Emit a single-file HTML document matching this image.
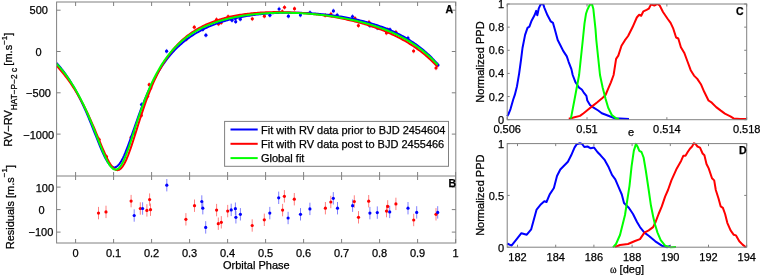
<!DOCTYPE html><html><head><meta charset="utf-8"><style>html,body{margin:0;padding:0;background:#fff;width:760px;height:275px;overflow:hidden}svg{display:block;will-change:transform}text{font-family:"Liberation Sans",sans-serif;fill:#000;stroke:#000;stroke-width:0.25px}</style></head><body>
<svg width="760" height="275" viewBox="0 0 760 275">
<rect width="760" height="275" fill="#fff"/>
<line x1="99.20" y1="137.20" x2="99.20" y2="141.80" stroke="#ff6060" stroke-width="0.8"/>
<line x1="106.50" y1="154.40" x2="106.50" y2="159.00" stroke="#ff6060" stroke-width="0.8"/>
<line x1="131.10" y1="135.10" x2="131.10" y2="139.70" stroke="#ff6060" stroke-width="0.8"/>
<line x1="134.20" y1="130.70" x2="134.20" y2="135.30" stroke="#6060ff" stroke-width="0.8"/>
<line x1="141.30" y1="113.10" x2="141.30" y2="117.70" stroke="#ff6060" stroke-width="0.8"/>
<line x1="141.50" y1="102.20" x2="141.50" y2="106.80" stroke="#6060ff" stroke-width="0.8"/>
<line x1="147.60" y1="93.90" x2="147.60" y2="98.50" stroke="#ff6060" stroke-width="0.8"/>
<line x1="149.20" y1="82.40" x2="149.20" y2="87.00" stroke="#ff6060" stroke-width="0.8"/>
<line x1="150.80" y1="85.60" x2="150.80" y2="90.20" stroke="#ff6060" stroke-width="0.8"/>
<line x1="166.60" y1="48.90" x2="166.60" y2="53.50" stroke="#6060ff" stroke-width="0.8"/>
<line x1="186.30" y1="37.00" x2="186.30" y2="41.60" stroke="#ff6060" stroke-width="0.8"/>
<line x1="194.30" y1="24.90" x2="194.30" y2="29.50" stroke="#ff6060" stroke-width="0.8"/>
<line x1="201.80" y1="26.50" x2="201.80" y2="31.10" stroke="#6060ff" stroke-width="0.8"/>
<line x1="202.80" y1="27.20" x2="202.80" y2="31.80" stroke="#6060ff" stroke-width="0.8"/>
<line x1="205.90" y1="32.90" x2="205.90" y2="37.50" stroke="#6060ff" stroke-width="0.8"/>
<line x1="216.50" y1="17.20" x2="216.50" y2="21.80" stroke="#ff6060" stroke-width="0.8"/>
<line x1="218.50" y1="21.60" x2="218.50" y2="26.20" stroke="#ff6060" stroke-width="0.8"/>
<line x1="221.20" y1="20.40" x2="221.20" y2="25.00" stroke="#ff6060" stroke-width="0.8"/>
<line x1="228.10" y1="14.30" x2="228.10" y2="18.90" stroke="#ff6060" stroke-width="0.8"/>
<line x1="232.00" y1="18.00" x2="232.00" y2="22.60" stroke="#6060ff" stroke-width="0.8"/>
<line x1="235.40" y1="16.20" x2="235.40" y2="20.80" stroke="#6060ff" stroke-width="0.8"/>
<line x1="235.70" y1="19.40" x2="235.70" y2="24.00" stroke="#6060ff" stroke-width="0.8"/>
<line x1="240.30" y1="16.90" x2="240.30" y2="21.50" stroke="#6060ff" stroke-width="0.8"/>
<line x1="252.30" y1="16.50" x2="252.30" y2="21.10" stroke="#ff6060" stroke-width="0.8"/>
<line x1="264.40" y1="13.90" x2="264.40" y2="18.50" stroke="#ff6060" stroke-width="0.8"/>
<line x1="269.90" y1="13.00" x2="269.90" y2="17.60" stroke="#6060ff" stroke-width="0.8"/>
<line x1="279.10" y1="6.70" x2="279.10" y2="11.30" stroke="#6060ff" stroke-width="0.8"/>
<line x1="282.30" y1="9.20" x2="282.30" y2="13.80" stroke="#ff6060" stroke-width="0.8"/>
<line x1="284.50" y1="5.00" x2="284.50" y2="9.60" stroke="#ff6060" stroke-width="0.8"/>
<line x1="288.40" y1="13.90" x2="288.40" y2="18.50" stroke="#6060ff" stroke-width="0.8"/>
<line x1="294.50" y1="6.40" x2="294.50" y2="11.00" stroke="#ff6060" stroke-width="0.8"/>
<line x1="300.40" y1="12.80" x2="300.40" y2="17.40" stroke="#6060ff" stroke-width="0.8"/>
<line x1="310.00" y1="10.30" x2="310.00" y2="14.90" stroke="#6060ff" stroke-width="0.8"/>
<line x1="325.20" y1="13.00" x2="325.20" y2="17.60" stroke="#ff6060" stroke-width="0.8"/>
<line x1="330.90" y1="11.70" x2="330.90" y2="16.30" stroke="#ff6060" stroke-width="0.8"/>
<line x1="333.40" y1="8.60" x2="333.40" y2="13.20" stroke="#6060ff" stroke-width="0.8"/>
<line x1="337.20" y1="12.80" x2="337.20" y2="17.40" stroke="#6060ff" stroke-width="0.8"/>
<line x1="352.50" y1="14.20" x2="352.50" y2="18.80" stroke="#6060ff" stroke-width="0.8"/>
<line x1="355.00" y1="16.10" x2="355.00" y2="20.70" stroke="#ff6060" stroke-width="0.8"/>
<line x1="358.40" y1="23.30" x2="358.40" y2="27.90" stroke="#ff6060" stroke-width="0.8"/>
<line x1="369.00" y1="19.90" x2="369.00" y2="24.50" stroke="#ff6060" stroke-width="0.8"/>
<line x1="369.90" y1="23.40" x2="369.90" y2="28.00" stroke="#6060ff" stroke-width="0.8"/>
<line x1="377.30" y1="25.60" x2="377.30" y2="30.20" stroke="#6060ff" stroke-width="0.8"/>
<line x1="386.40" y1="30.70" x2="386.40" y2="35.30" stroke="#ff6060" stroke-width="0.8"/>
<line x1="387.70" y1="27.20" x2="387.70" y2="31.80" stroke="#ff6060" stroke-width="0.8"/>
<line x1="390.00" y1="27.30" x2="390.00" y2="31.90" stroke="#6060ff" stroke-width="0.8"/>
<line x1="395.90" y1="29.90" x2="395.90" y2="34.50" stroke="#ff6060" stroke-width="0.8"/>
<line x1="408.00" y1="35.70" x2="408.00" y2="40.30" stroke="#6060ff" stroke-width="0.8"/>
<line x1="413.60" y1="48.70" x2="413.60" y2="53.30" stroke="#ff6060" stroke-width="0.8"/>
<line x1="416.70" y1="45.00" x2="416.70" y2="49.60" stroke="#6060ff" stroke-width="0.8"/>
<line x1="436.00" y1="65.70" x2="436.00" y2="70.30" stroke="#ff6060" stroke-width="0.8"/>
<line x1="438.00" y1="62.70" x2="438.00" y2="67.30" stroke="#6060ff" stroke-width="0.8"/>
<circle cx="99.20" cy="139.50" r="1.6" fill="#ff0000"/>
<circle cx="106.50" cy="156.70" r="1.6" fill="#ff0000"/>
<circle cx="131.10" cy="137.40" r="1.6" fill="#ff0000"/>
<circle cx="134.20" cy="133.00" r="1.6" fill="#0000ff"/>
<circle cx="141.30" cy="115.40" r="1.6" fill="#ff0000"/>
<circle cx="141.50" cy="104.50" r="1.6" fill="#0000ff"/>
<circle cx="147.60" cy="96.20" r="1.6" fill="#ff0000"/>
<circle cx="149.20" cy="84.70" r="1.6" fill="#ff0000"/>
<circle cx="150.80" cy="87.90" r="1.6" fill="#ff0000"/>
<circle cx="166.60" cy="51.20" r="1.6" fill="#0000ff"/>
<circle cx="186.30" cy="39.30" r="1.6" fill="#ff0000"/>
<circle cx="194.30" cy="27.20" r="1.6" fill="#ff0000"/>
<circle cx="201.80" cy="28.80" r="1.6" fill="#0000ff"/>
<circle cx="202.80" cy="29.50" r="1.6" fill="#0000ff"/>
<circle cx="205.90" cy="35.20" r="1.6" fill="#0000ff"/>
<circle cx="216.50" cy="19.50" r="1.6" fill="#ff0000"/>
<circle cx="218.50" cy="23.90" r="1.6" fill="#ff0000"/>
<circle cx="221.20" cy="22.70" r="1.6" fill="#ff0000"/>
<circle cx="228.10" cy="16.60" r="1.6" fill="#ff0000"/>
<circle cx="232.00" cy="20.30" r="1.6" fill="#0000ff"/>
<circle cx="235.40" cy="18.50" r="1.6" fill="#0000ff"/>
<circle cx="235.70" cy="21.70" r="1.6" fill="#0000ff"/>
<circle cx="240.30" cy="19.20" r="1.6" fill="#0000ff"/>
<circle cx="252.30" cy="18.80" r="1.6" fill="#ff0000"/>
<circle cx="264.40" cy="16.20" r="1.6" fill="#ff0000"/>
<circle cx="269.90" cy="15.30" r="1.6" fill="#0000ff"/>
<circle cx="279.10" cy="9.00" r="1.6" fill="#0000ff"/>
<circle cx="282.30" cy="11.50" r="1.6" fill="#ff0000"/>
<circle cx="284.50" cy="7.30" r="1.6" fill="#ff0000"/>
<circle cx="288.40" cy="16.20" r="1.6" fill="#0000ff"/>
<circle cx="294.50" cy="8.70" r="1.6" fill="#ff0000"/>
<circle cx="300.40" cy="15.10" r="1.6" fill="#0000ff"/>
<circle cx="310.00" cy="12.60" r="1.6" fill="#0000ff"/>
<circle cx="325.20" cy="15.30" r="1.6" fill="#ff0000"/>
<circle cx="330.90" cy="14.00" r="1.6" fill="#ff0000"/>
<circle cx="333.40" cy="10.90" r="1.6" fill="#0000ff"/>
<circle cx="337.20" cy="15.10" r="1.6" fill="#0000ff"/>
<circle cx="352.50" cy="16.50" r="1.6" fill="#0000ff"/>
<circle cx="355.00" cy="18.40" r="1.6" fill="#ff0000"/>
<circle cx="358.40" cy="25.60" r="1.6" fill="#ff0000"/>
<circle cx="369.00" cy="22.20" r="1.6" fill="#ff0000"/>
<circle cx="369.90" cy="25.70" r="1.6" fill="#0000ff"/>
<circle cx="377.30" cy="27.90" r="1.6" fill="#0000ff"/>
<circle cx="386.40" cy="33.00" r="1.6" fill="#ff0000"/>
<circle cx="387.70" cy="29.50" r="1.6" fill="#ff0000"/>
<circle cx="390.00" cy="29.60" r="1.6" fill="#0000ff"/>
<circle cx="395.90" cy="32.20" r="1.6" fill="#ff0000"/>
<circle cx="408.00" cy="38.00" r="1.6" fill="#0000ff"/>
<circle cx="413.60" cy="51.00" r="1.6" fill="#ff0000"/>
<circle cx="416.70" cy="47.30" r="1.6" fill="#0000ff"/>
<circle cx="436.00" cy="68.00" r="1.6" fill="#ff0000"/>
<circle cx="438.00" cy="65.00" r="1.6" fill="#0000ff"/>
<line x1="98.50" y1="206.90" x2="98.50" y2="219.30" stroke="#ff6060" stroke-width="0.8"/>
<line x1="106.00" y1="205.70" x2="106.00" y2="218.10" stroke="#ff6060" stroke-width="0.8"/>
<line x1="131.10" y1="194.90" x2="131.10" y2="207.30" stroke="#ff6060" stroke-width="0.8"/>
<line x1="134.20" y1="209.30" x2="134.20" y2="221.70" stroke="#6060ff" stroke-width="0.8"/>
<line x1="140.30" y1="202.30" x2="140.30" y2="214.70" stroke="#ff6060" stroke-width="0.8"/>
<line x1="142.60" y1="202.30" x2="142.60" y2="214.70" stroke="#6060ff" stroke-width="0.8"/>
<line x1="146.90" y1="204.20" x2="146.90" y2="216.60" stroke="#ff6060" stroke-width="0.8"/>
<line x1="149.60" y1="193.40" x2="149.60" y2="205.80" stroke="#ff6060" stroke-width="0.8"/>
<line x1="150.50" y1="203.50" x2="150.50" y2="215.90" stroke="#ff6060" stroke-width="0.8"/>
<line x1="166.80" y1="179.00" x2="166.80" y2="191.40" stroke="#6060ff" stroke-width="0.8"/>
<line x1="185.90" y1="213.10" x2="185.90" y2="225.50" stroke="#ff6060" stroke-width="0.8"/>
<line x1="194.50" y1="199.50" x2="194.50" y2="211.90" stroke="#ff6060" stroke-width="0.8"/>
<line x1="201.80" y1="195.30" x2="201.80" y2="207.70" stroke="#6060ff" stroke-width="0.8"/>
<line x1="202.80" y1="202.00" x2="202.80" y2="214.40" stroke="#6060ff" stroke-width="0.8"/>
<line x1="205.70" y1="221.20" x2="205.70" y2="233.60" stroke="#6060ff" stroke-width="0.8"/>
<line x1="216.60" y1="203.90" x2="216.60" y2="216.30" stroke="#ff6060" stroke-width="0.8"/>
<line x1="218.30" y1="217.50" x2="218.30" y2="229.90" stroke="#ff6060" stroke-width="0.8"/>
<line x1="221.30" y1="216.10" x2="221.30" y2="228.50" stroke="#ff6060" stroke-width="0.8"/>
<line x1="227.70" y1="204.90" x2="227.70" y2="217.30" stroke="#ff6060" stroke-width="0.8"/>
<line x1="231.20" y1="203.70" x2="231.20" y2="216.10" stroke="#6060ff" stroke-width="0.8"/>
<line x1="235.40" y1="202.50" x2="235.40" y2="214.90" stroke="#6060ff" stroke-width="0.8"/>
<line x1="235.90" y1="211.10" x2="235.90" y2="223.50" stroke="#6060ff" stroke-width="0.8"/>
<line x1="240.40" y1="208.10" x2="240.40" y2="220.50" stroke="#6060ff" stroke-width="0.8"/>
<line x1="252.20" y1="219.30" x2="252.20" y2="231.70" stroke="#ff6060" stroke-width="0.8"/>
<line x1="264.30" y1="213.60" x2="264.30" y2="226.00" stroke="#ff6060" stroke-width="0.8"/>
<line x1="269.80" y1="206.90" x2="269.80" y2="219.30" stroke="#6060ff" stroke-width="0.8"/>
<line x1="278.70" y1="191.60" x2="278.70" y2="204.00" stroke="#6060ff" stroke-width="0.8"/>
<line x1="284.40" y1="190.10" x2="284.40" y2="202.50" stroke="#ff6060" stroke-width="0.8"/>
<line x1="282.60" y1="203.90" x2="282.60" y2="216.30" stroke="#ff6060" stroke-width="0.8"/>
<line x1="288.10" y1="211.80" x2="288.10" y2="224.20" stroke="#6060ff" stroke-width="0.8"/>
<line x1="294.30" y1="193.00" x2="294.30" y2="205.40" stroke="#ff6060" stroke-width="0.8"/>
<line x1="300.50" y1="208.10" x2="300.50" y2="220.50" stroke="#6060ff" stroke-width="0.8"/>
<line x1="309.90" y1="202.70" x2="309.90" y2="215.10" stroke="#6060ff" stroke-width="0.8"/>
<line x1="325.40" y1="202.00" x2="325.40" y2="214.40" stroke="#ff6060" stroke-width="0.8"/>
<line x1="330.80" y1="195.80" x2="330.80" y2="208.20" stroke="#ff6060" stroke-width="0.8"/>
<line x1="333.30" y1="192.10" x2="333.30" y2="204.50" stroke="#6060ff" stroke-width="0.8"/>
<line x1="337.50" y1="202.00" x2="337.50" y2="214.40" stroke="#6060ff" stroke-width="0.8"/>
<line x1="352.60" y1="199.50" x2="352.60" y2="211.90" stroke="#6060ff" stroke-width="0.8"/>
<line x1="354.30" y1="195.30" x2="354.30" y2="207.70" stroke="#ff6060" stroke-width="0.8"/>
<line x1="358.50" y1="211.10" x2="358.50" y2="223.50" stroke="#ff6060" stroke-width="0.8"/>
<line x1="368.70" y1="195.00" x2="368.70" y2="207.40" stroke="#ff6060" stroke-width="0.8"/>
<line x1="369.90" y1="206.90" x2="369.90" y2="219.30" stroke="#6060ff" stroke-width="0.8"/>
<line x1="377.30" y1="206.40" x2="377.30" y2="218.80" stroke="#6060ff" stroke-width="0.8"/>
<line x1="386.50" y1="204.90" x2="386.50" y2="217.30" stroke="#ff6060" stroke-width="0.8"/>
<line x1="387.70" y1="200.20" x2="387.70" y2="212.60" stroke="#ff6060" stroke-width="0.8"/>
<line x1="389.70" y1="205.70" x2="389.70" y2="218.10" stroke="#6060ff" stroke-width="0.8"/>
<line x1="395.90" y1="197.70" x2="395.90" y2="210.10" stroke="#ff6060" stroke-width="0.8"/>
<line x1="408.00" y1="202.00" x2="408.00" y2="214.40" stroke="#6060ff" stroke-width="0.8"/>
<line x1="413.70" y1="213.80" x2="413.70" y2="226.20" stroke="#ff6060" stroke-width="0.8"/>
<line x1="416.70" y1="206.20" x2="416.70" y2="218.60" stroke="#6060ff" stroke-width="0.8"/>
<line x1="436.00" y1="208.10" x2="436.00" y2="220.50" stroke="#ff6060" stroke-width="0.8"/>
<line x1="437.70" y1="206.20" x2="437.70" y2="218.60" stroke="#6060ff" stroke-width="0.8"/>
<circle cx="98.50" cy="213.10" r="1.6" fill="#ff0000"/>
<circle cx="106.00" cy="211.90" r="1.6" fill="#ff0000"/>
<circle cx="131.10" cy="201.10" r="1.6" fill="#ff0000"/>
<circle cx="134.20" cy="215.50" r="1.6" fill="#0000ff"/>
<circle cx="140.30" cy="208.50" r="1.6" fill="#ff0000"/>
<circle cx="142.60" cy="208.50" r="1.6" fill="#0000ff"/>
<circle cx="146.90" cy="210.40" r="1.6" fill="#ff0000"/>
<circle cx="149.60" cy="199.60" r="1.6" fill="#ff0000"/>
<circle cx="150.50" cy="209.70" r="1.6" fill="#ff0000"/>
<circle cx="166.80" cy="185.20" r="1.6" fill="#0000ff"/>
<circle cx="185.90" cy="219.30" r="1.6" fill="#ff0000"/>
<circle cx="194.50" cy="205.70" r="1.6" fill="#ff0000"/>
<circle cx="201.80" cy="201.50" r="1.6" fill="#0000ff"/>
<circle cx="202.80" cy="208.20" r="1.6" fill="#0000ff"/>
<circle cx="205.70" cy="227.40" r="1.6" fill="#0000ff"/>
<circle cx="216.60" cy="210.10" r="1.6" fill="#ff0000"/>
<circle cx="218.30" cy="223.70" r="1.6" fill="#ff0000"/>
<circle cx="221.30" cy="222.30" r="1.6" fill="#ff0000"/>
<circle cx="227.70" cy="211.10" r="1.6" fill="#ff0000"/>
<circle cx="231.20" cy="209.90" r="1.6" fill="#0000ff"/>
<circle cx="235.40" cy="208.70" r="1.6" fill="#0000ff"/>
<circle cx="235.90" cy="217.30" r="1.6" fill="#0000ff"/>
<circle cx="240.40" cy="214.30" r="1.6" fill="#0000ff"/>
<circle cx="252.20" cy="225.50" r="1.6" fill="#ff0000"/>
<circle cx="264.30" cy="219.80" r="1.6" fill="#ff0000"/>
<circle cx="269.80" cy="213.10" r="1.6" fill="#0000ff"/>
<circle cx="278.70" cy="197.80" r="1.6" fill="#0000ff"/>
<circle cx="284.40" cy="196.30" r="1.6" fill="#ff0000"/>
<circle cx="282.60" cy="210.10" r="1.6" fill="#ff0000"/>
<circle cx="288.10" cy="218.00" r="1.6" fill="#0000ff"/>
<circle cx="294.30" cy="199.20" r="1.6" fill="#ff0000"/>
<circle cx="300.50" cy="214.30" r="1.6" fill="#0000ff"/>
<circle cx="309.90" cy="208.90" r="1.6" fill="#0000ff"/>
<circle cx="325.40" cy="208.20" r="1.6" fill="#ff0000"/>
<circle cx="330.80" cy="202.00" r="1.6" fill="#ff0000"/>
<circle cx="333.30" cy="198.30" r="1.6" fill="#0000ff"/>
<circle cx="337.50" cy="208.20" r="1.6" fill="#0000ff"/>
<circle cx="352.60" cy="205.70" r="1.6" fill="#0000ff"/>
<circle cx="354.30" cy="201.50" r="1.6" fill="#ff0000"/>
<circle cx="358.50" cy="217.30" r="1.6" fill="#ff0000"/>
<circle cx="368.70" cy="201.20" r="1.6" fill="#ff0000"/>
<circle cx="369.90" cy="213.10" r="1.6" fill="#0000ff"/>
<circle cx="377.30" cy="212.60" r="1.6" fill="#0000ff"/>
<circle cx="386.50" cy="211.10" r="1.6" fill="#ff0000"/>
<circle cx="387.70" cy="206.40" r="1.6" fill="#ff0000"/>
<circle cx="389.70" cy="211.90" r="1.6" fill="#0000ff"/>
<circle cx="395.90" cy="203.90" r="1.6" fill="#ff0000"/>
<circle cx="408.00" cy="208.20" r="1.6" fill="#0000ff"/>
<circle cx="413.70" cy="220.00" r="1.6" fill="#ff0000"/>
<circle cx="416.70" cy="212.40" r="1.6" fill="#0000ff"/>
<circle cx="436.00" cy="214.30" r="1.6" fill="#ff0000"/>
<circle cx="437.70" cy="212.40" r="1.6" fill="#0000ff"/>
<g fill="none" stroke-width="2" stroke-linejoin="round" stroke-linecap="butt">
<path d="M56.60,62.93 L57.87,64.39 L59.15,65.90 L60.42,67.46 L61.70,69.06 L62.97,70.72 L64.25,72.43 L65.52,74.20 L66.80,76.02 L68.07,77.90 L69.35,79.84 L70.62,81.85 L71.89,83.92 L73.17,86.06 L74.44,88.27 L75.72,90.54 L76.99,92.90 L78.27,95.32 L79.54,97.82 L80.82,100.40 L82.09,103.05 L83.37,105.78 L84.64,108.58 L85.92,111.46 L87.19,114.41 L88.46,117.42 L89.74,120.50 L91.01,123.63 L92.29,126.81 L93.56,130.02 L94.84,133.26 L96.11,136.50 L97.39,139.74 L98.66,142.93 L99.94,146.07 L101.21,149.13 L102.48,152.06 L103.76,154.85 L105.03,157.45 L106.31,159.82 L107.58,161.94 L108.86,163.75 L110.13,165.23 L111.41,166.35 L112.68,167.07 L113.96,167.39 L115.23,167.28 L116.51,166.74 L117.78,165.78 L119.05,164.41 L120.33,162.66 L121.60,160.54 L122.88,158.10 L124.15,155.37 L125.43,152.39 L126.70,149.20 L127.98,145.84 L129.25,142.35 L130.53,138.76 L131.80,135.12 L133.07,131.44 L134.35,127.76 L135.62,124.10 L136.90,120.47 L138.17,116.89 L139.45,113.38 L140.72,109.95 L142.00,106.59 L143.27,103.33 L144.55,100.16 L145.82,97.08 L147.10,94.10 L148.37,91.22 L149.64,88.44 L150.92,85.75 L152.19,83.16 L153.47,80.66 L154.74,78.24 L156.02,75.92 L157.29,73.68 L158.57,71.52 L159.84,69.44 L161.12,67.44 L162.39,65.51 L163.66,63.66 L164.94,61.87 L166.21,60.14 L167.49,58.48 L168.76,56.88 L170.04,55.33 L171.31,53.84 L172.59,52.40 L173.86,51.02 L175.14,49.68 L176.41,48.39 L177.69,47.14 L178.96,45.94 L180.23,44.78 L181.51,43.65 L182.78,42.57 L184.06,41.52 L185.33,40.50 L186.61,39.52 L187.88,38.57 L189.16,37.66 L190.43,36.77 L191.71,35.91 L192.98,35.08 L194.25,34.27 L195.53,33.49 L196.80,32.74 L198.08,32.01 L199.35,31.30 L200.63,30.61 L201.90,29.95 L203.18,29.30 L204.45,28.68 L205.73,28.07 L207.00,27.49 L208.28,26.92 L209.55,26.37 L210.82,25.83 L212.10,25.31 L213.37,24.81 L214.65,24.32 L215.92,23.85 L217.20,23.39 L218.47,22.95 L219.75,22.52 L221.02,22.10 L222.30,21.70 L223.57,21.31 L224.84,20.93 L226.12,20.56 L227.39,20.20 L228.67,19.86 L229.94,19.52 L231.22,19.20 L232.49,18.89 L233.77,18.58 L235.04,18.29 L236.32,18.00 L237.59,17.73 L238.87,17.46 L240.14,17.21 L241.41,16.96 L242.69,16.72 L243.96,16.49 L245.24,16.27 L246.51,16.05 L247.79,15.84 L249.06,15.64 L250.34,15.45 L251.61,15.27 L252.89,15.09 L254.16,14.92 L255.43,14.76 L256.71,14.60 L257.98,14.45 L259.26,14.31 L260.53,14.17 L261.81,14.04 L263.08,13.92 L264.36,13.80 L265.63,13.69 L266.91,13.59 L268.18,13.49 L269.46,13.40 L270.73,13.31 L272.00,13.23 L273.28,13.15 L274.55,13.08 L275.83,13.02 L277.10,12.96 L278.38,12.91 L279.65,12.86 L280.93,12.82 L282.20,12.78 L283.48,12.75 L284.75,12.72 L286.02,12.70 L287.30,12.68 L288.57,12.67 L289.85,12.67 L291.12,12.67 L292.40,12.67 L293.67,12.68 L294.95,12.69 L296.22,12.71 L297.50,12.74 L298.77,12.77 L300.05,12.80 L301.32,12.84 L302.59,12.89 L303.87,12.93 L305.14,12.99 L306.42,13.05 L307.69,13.11 L308.97,13.18 L310.24,13.25 L311.52,13.33 L312.79,13.42 L314.07,13.51 L315.34,13.60 L316.61,13.70 L317.89,13.80 L319.16,13.91 L320.44,14.03 L321.71,14.15 L322.99,14.27 L324.26,14.40 L325.54,14.54 L326.81,14.68 L328.09,14.82 L329.36,14.97 L330.64,15.13 L331.91,15.29 L333.18,15.46 L334.46,15.63 L335.73,15.81 L337.01,16.00 L338.28,16.19 L339.56,16.38 L340.83,16.58 L342.11,16.79 L343.38,17.01 L344.66,17.23 L345.93,17.45 L347.20,17.68 L348.48,17.92 L349.75,18.17 L351.03,18.42 L352.30,18.68 L353.58,18.95 L354.85,19.22 L356.13,19.50 L357.40,19.79 L358.68,20.08 L359.95,20.38 L361.23,20.69 L362.50,21.01 L363.77,21.33 L365.05,21.67 L366.32,22.01 L367.60,22.36 L368.87,22.72 L370.15,23.08 L371.42,23.46 L372.70,23.84 L373.97,24.24 L375.25,24.64 L376.52,25.05 L377.79,25.48 L379.07,25.91 L380.34,26.35 L381.62,26.81 L382.89,27.28 L384.17,27.75 L385.44,28.24 L386.72,28.74 L387.99,29.25 L389.27,29.78 L390.54,30.32 L391.82,30.87 L393.09,31.43 L394.36,32.01 L395.64,32.60 L396.91,33.21 L398.19,33.83 L399.46,34.47 L400.74,35.12 L402.01,35.80 L403.29,36.48 L404.56,37.19 L405.84,37.91 L407.11,38.66 L408.38,39.42 L409.66,40.20 L410.93,41.00 L412.21,41.83 L413.48,42.67 L414.76,43.54 L416.03,44.43 L417.31,45.35 L418.58,46.29 L419.86,47.26 L421.13,48.26 L422.41,49.28 L423.68,50.34 L424.95,51.42 L426.23,52.53 L427.50,53.68 L428.78,54.86 L430.05,56.08 L431.33,57.33 L432.60,58.62 L433.88,59.95 L435.15,61.32 L436.43,62.73 L437.70,64.19" stroke="#0000ff"/>
<path d="M56.60,65.79 L57.87,67.16 L59.15,68.58 L60.42,70.03 L61.70,71.52 L62.97,73.06 L64.25,74.64 L65.52,76.26 L66.80,77.94 L68.07,79.66 L69.35,81.43 L70.62,83.26 L71.89,85.14 L73.17,87.08 L74.44,89.08 L75.72,91.14 L76.99,93.25 L78.27,95.43 L79.54,97.68 L80.82,99.99 L82.09,102.37 L83.37,104.81 L84.64,107.32 L85.92,109.90 L87.19,112.55 L88.46,115.27 L89.74,118.05 L91.01,120.89 L92.29,123.79 L93.56,126.74 L94.84,129.73 L96.11,132.77 L97.39,135.83 L98.66,138.91 L99.94,141.98 L101.21,145.04 L102.48,148.06 L103.76,151.02 L105.03,153.88 L106.31,156.63 L107.58,159.22 L108.86,161.63 L110.13,163.81 L111.41,165.73 L112.68,167.35 L113.96,168.63 L115.23,169.54 L116.51,170.05 L117.78,170.14 L119.05,169.79 L120.33,168.99 L121.60,167.75 L122.88,166.08 L124.15,164.01 L125.43,161.54 L126.70,158.74 L127.98,155.62 L129.25,152.24 L130.53,148.65 L131.80,144.88 L133.07,140.97 L134.35,136.98 L135.62,132.93 L136.90,128.86 L138.17,124.80 L139.45,120.78 L140.72,116.80 L142.00,112.90 L143.27,109.09 L144.55,105.37 L145.82,101.76 L147.10,98.25 L148.37,94.86 L149.64,91.59 L150.92,88.43 L152.19,85.39 L153.47,82.47 L154.74,79.65 L156.02,76.95 L157.29,74.35 L158.57,71.86 L159.84,69.46 L161.12,67.17 L162.39,64.96 L163.66,62.85 L164.94,60.82 L166.21,58.87 L167.49,57.01 L168.76,55.21 L170.04,53.49 L171.31,51.84 L172.59,50.25 L173.86,48.73 L175.14,47.27 L176.41,45.86 L177.69,44.51 L178.96,43.21 L180.23,41.96 L181.51,40.76 L182.78,39.61 L184.06,38.50 L185.33,37.43 L186.61,36.40 L187.88,35.41 L189.16,34.45 L190.43,33.53 L191.71,32.65 L192.98,31.79 L194.25,30.97 L195.53,30.18 L196.80,29.42 L198.08,28.68 L199.35,27.97 L200.63,27.28 L201.90,26.62 L203.18,25.99 L204.45,25.37 L205.73,24.78 L207.00,24.21 L208.28,23.66 L209.55,23.13 L210.82,22.62 L212.10,22.12 L213.37,21.65 L214.65,21.19 L215.92,20.74 L217.20,20.31 L218.47,19.90 L219.75,19.51 L221.02,19.12 L222.30,18.75 L223.57,18.40 L224.84,18.06 L226.12,17.73 L227.39,17.41 L228.67,17.11 L229.94,16.81 L231.22,16.53 L232.49,16.26 L233.77,16.00 L235.04,15.75 L236.32,15.51 L237.59,15.28 L238.87,15.07 L240.14,14.86 L241.41,14.65 L242.69,14.46 L243.96,14.28 L245.24,14.11 L246.51,13.94 L247.79,13.78 L249.06,13.63 L250.34,13.49 L251.61,13.36 L252.89,13.23 L254.16,13.11 L255.43,13.00 L256.71,12.89 L257.98,12.79 L259.26,12.70 L260.53,12.62 L261.81,12.54 L263.08,12.47 L264.36,12.40 L265.63,12.35 L266.91,12.29 L268.18,12.25 L269.46,12.21 L270.73,12.17 L272.00,12.14 L273.28,12.12 L274.55,12.10 L275.83,12.09 L277.10,12.09 L278.38,12.09 L279.65,12.09 L280.93,12.10 L282.20,12.12 L283.48,12.14 L284.75,12.17 L286.02,12.20 L287.30,12.24 L288.57,12.28 L289.85,12.33 L291.12,12.38 L292.40,12.43 L293.67,12.50 L294.95,12.56 L296.22,12.64 L297.50,12.71 L298.77,12.80 L300.05,12.88 L301.32,12.98 L302.59,13.07 L303.87,13.17 L305.14,13.28 L306.42,13.39 L307.69,13.51 L308.97,13.63 L310.24,13.76 L311.52,13.89 L312.79,14.02 L314.07,14.16 L315.34,14.31 L316.61,14.46 L317.89,14.62 L319.16,14.78 L320.44,14.94 L321.71,15.11 L322.99,15.29 L324.26,15.47 L325.54,15.66 L326.81,15.85 L328.09,16.05 L329.36,16.25 L330.64,16.45 L331.91,16.67 L333.18,16.88 L334.46,17.11 L335.73,17.34 L337.01,17.57 L338.28,17.81 L339.56,18.05 L340.83,18.31 L342.11,18.56 L343.38,18.82 L344.66,19.09 L345.93,19.37 L347.20,19.65 L348.48,19.93 L349.75,20.23 L351.03,20.53 L352.30,20.83 L353.58,21.14 L354.85,21.46 L356.13,21.79 L357.40,22.12 L358.68,22.46 L359.95,22.81 L361.23,23.16 L362.50,23.52 L363.77,23.89 L365.05,24.27 L366.32,24.65 L367.60,25.04 L368.87,25.44 L370.15,25.85 L371.42,26.26 L372.70,26.69 L373.97,27.12 L375.25,27.56 L376.52,28.01 L377.79,28.48 L379.07,28.95 L380.34,29.42 L381.62,29.91 L382.89,30.41 L384.17,30.92 L385.44,31.45 L386.72,31.98 L387.99,32.52 L389.27,33.07 L390.54,33.64 L391.82,34.22 L393.09,34.81 L394.36,35.41 L395.64,36.03 L396.91,36.66 L398.19,37.30 L399.46,37.96 L400.74,38.63 L402.01,39.32 L403.29,40.02 L404.56,40.74 L405.84,41.47 L407.11,42.22 L408.38,42.99 L409.66,43.78 L410.93,44.58 L412.21,45.40 L413.48,46.25 L414.76,47.11 L416.03,47.99 L417.31,48.90 L418.58,49.83 L419.86,50.78 L421.13,51.75 L422.41,52.75 L423.68,53.77 L424.95,54.82 L426.23,55.90 L427.50,57.00 L428.78,58.14 L430.05,59.30 L431.33,60.49 L432.60,61.72 L433.88,62.98 L435.15,64.28 L436.43,65.61 L437.70,66.97" stroke="#ff0000"/>
<path d="M56.60,63.70 L57.87,65.10 L59.15,66.54 L60.42,68.03 L61.70,69.56 L62.97,71.15 L64.25,72.78 L65.52,74.46 L66.80,76.20 L68.07,77.99 L69.35,79.84 L70.62,81.75 L71.89,83.72 L73.17,85.75 L74.44,87.85 L75.72,90.02 L76.99,92.26 L78.27,94.57 L79.54,96.95 L80.82,99.41 L82.09,101.94 L83.37,104.55 L84.64,107.24 L85.92,110.00 L87.19,112.84 L88.46,115.76 L89.74,118.74 L91.01,121.79 L92.29,124.90 L93.56,128.07 L94.84,131.28 L96.11,134.52 L97.39,137.78 L98.66,141.03 L99.94,144.27 L101.21,147.46 L102.48,150.58 L103.76,153.59 L105.03,156.46 L106.31,159.16 L107.58,161.63 L108.86,163.85 L110.13,165.76 L111.41,167.34 L112.68,168.53 L113.96,169.31 L115.23,169.65 L116.51,169.54 L117.78,168.96 L119.05,167.92 L120.33,166.42 L121.60,164.50 L122.88,162.19 L124.15,159.50 L125.43,156.51 L126.70,153.23 L127.98,149.73 L129.25,146.05 L130.53,142.24 L131.80,138.33 L133.07,134.37 L134.35,130.38 L135.62,126.40 L136.90,122.46 L138.17,118.57 L139.45,114.75 L140.72,111.01 L142.00,107.37 L143.27,103.83 L144.55,100.40 L145.82,97.07 L147.10,93.87 L148.37,90.77 L149.64,87.79 L150.92,84.91 L152.19,82.15 L153.47,79.50 L154.74,76.94 L156.02,74.49 L157.29,72.13 L158.57,69.87 L159.84,67.70 L161.12,65.61 L162.39,63.61 L163.66,61.68 L164.94,59.83 L166.21,58.06 L167.49,56.35 L168.76,54.71 L170.04,53.13 L171.31,51.61 L172.59,50.15 L173.86,48.75 L175.14,47.40 L176.41,46.10 L177.69,44.85 L178.96,43.64 L180.23,42.48 L181.51,41.36 L182.78,40.28 L184.06,39.24 L185.33,38.24 L186.61,37.27 L187.88,36.34 L189.16,35.44 L190.43,34.57 L191.71,33.73 L192.98,32.92 L194.25,32.13 L195.53,31.38 L196.80,30.65 L198.08,29.94 L199.35,29.26 L200.63,28.60 L201.90,27.96 L203.18,27.35 L204.45,26.75 L205.73,26.18 L207.00,25.62 L208.28,25.08 L209.55,24.56 L210.82,24.06 L212.10,23.57 L213.37,23.10 L214.65,22.65 L215.92,22.21 L217.20,21.78 L218.47,21.37 L219.75,20.97 L221.02,20.59 L222.30,20.22 L223.57,19.86 L224.84,19.51 L226.12,19.18 L227.39,18.85 L228.67,18.54 L229.94,18.24 L231.22,17.95 L232.49,17.67 L233.77,17.40 L235.04,17.14 L236.32,16.89 L237.59,16.65 L238.87,16.41 L240.14,16.19 L241.41,15.97 L242.69,15.77 L243.96,15.57 L245.24,15.38 L246.51,15.20 L247.79,15.02 L249.06,14.85 L250.34,14.69 L251.61,14.54 L252.89,14.40 L254.16,14.26 L255.43,14.13 L256.71,14.00 L257.98,13.88 L259.26,13.77 L260.53,13.67 L261.81,13.57 L263.08,13.47 L264.36,13.39 L265.63,13.31 L266.91,13.23 L268.18,13.16 L269.46,13.10 L270.73,13.04 L272.00,12.99 L273.28,12.95 L274.55,12.90 L275.83,12.87 L277.10,12.84 L278.38,12.82 L279.65,12.80 L280.93,12.78 L282.20,12.77 L283.48,12.77 L284.75,12.77 L286.02,12.78 L287.30,12.79 L288.57,12.80 L289.85,12.83 L291.12,12.85 L292.40,12.88 L293.67,12.92 L294.95,12.96 L296.22,13.00 L297.50,13.06 L298.77,13.11 L300.05,13.17 L301.32,13.24 L302.59,13.30 L303.87,13.38 L305.14,13.46 L306.42,13.54 L307.69,13.63 L308.97,13.72 L310.24,13.82 L311.52,13.93 L312.79,14.03 L314.07,14.15 L315.34,14.26 L316.61,14.39 L317.89,14.51 L319.16,14.64 L320.44,14.78 L321.71,14.92 L322.99,15.07 L324.26,15.22 L325.54,15.38 L326.81,15.54 L328.09,15.71 L329.36,15.88 L330.64,16.06 L331.91,16.24 L333.18,16.43 L334.46,16.62 L335.73,16.82 L337.01,17.03 L338.28,17.24 L339.56,17.45 L340.83,17.67 L342.11,17.90 L343.38,18.13 L344.66,18.37 L345.93,18.61 L347.20,18.87 L348.48,19.12 L349.75,19.38 L351.03,19.65 L352.30,19.93 L353.58,20.21 L354.85,20.50 L356.13,20.80 L357.40,21.10 L358.68,21.41 L359.95,21.72 L361.23,22.05 L362.50,22.38 L363.77,22.72 L365.05,23.06 L366.32,23.42 L367.60,23.78 L368.87,24.15 L370.15,24.53 L371.42,24.91 L372.70,25.31 L373.97,25.71 L375.25,26.13 L376.52,26.55 L377.79,26.98 L379.07,27.42 L380.34,27.87 L381.62,28.33 L382.89,28.81 L384.17,29.29 L385.44,29.78 L386.72,30.29 L387.99,30.80 L389.27,31.33 L390.54,31.87 L391.82,32.42 L393.09,32.99 L394.36,33.57 L395.64,34.16 L396.91,34.76 L398.19,35.38 L399.46,36.02 L400.74,36.67 L402.01,37.33 L403.29,38.01 L404.56,38.71 L405.84,39.42 L407.11,40.16 L408.38,40.91 L409.66,41.67 L410.93,42.46 L412.21,43.27 L413.48,44.10 L414.76,44.95 L416.03,45.82 L417.31,46.72 L418.58,47.64 L419.86,48.58 L421.13,49.55 L422.41,50.54 L423.68,51.56 L424.95,52.61 L426.23,53.69 L427.50,54.80 L428.78,55.94 L430.05,57.11 L431.33,58.32 L432.60,59.56 L433.88,60.84 L435.15,62.15 L436.43,63.51 L437.70,64.90" stroke="#00ff00"/>
</g>
<line x1="75.60" y1="2.00" x2="75.60" y2="6.00" stroke="#808080" stroke-width="1"/>
<line x1="75.60" y1="172.00" x2="75.60" y2="176.00" stroke="#808080" stroke-width="1"/>
<line x1="75.60" y1="176.00" x2="75.60" y2="180.00" stroke="#808080" stroke-width="1"/>
<line x1="75.60" y1="239.00" x2="75.60" y2="243.00" stroke="#808080" stroke-width="1"/>
<line x1="113.60" y1="2.00" x2="113.60" y2="6.00" stroke="#808080" stroke-width="1"/>
<line x1="113.60" y1="172.00" x2="113.60" y2="176.00" stroke="#808080" stroke-width="1"/>
<line x1="113.60" y1="176.00" x2="113.60" y2="180.00" stroke="#808080" stroke-width="1"/>
<line x1="113.60" y1="239.00" x2="113.60" y2="243.00" stroke="#808080" stroke-width="1"/>
<line x1="151.60" y1="2.00" x2="151.60" y2="6.00" stroke="#808080" stroke-width="1"/>
<line x1="151.60" y1="172.00" x2="151.60" y2="176.00" stroke="#808080" stroke-width="1"/>
<line x1="151.60" y1="176.00" x2="151.60" y2="180.00" stroke="#808080" stroke-width="1"/>
<line x1="151.60" y1="239.00" x2="151.60" y2="243.00" stroke="#808080" stroke-width="1"/>
<line x1="189.60" y1="2.00" x2="189.60" y2="6.00" stroke="#808080" stroke-width="1"/>
<line x1="189.60" y1="172.00" x2="189.60" y2="176.00" stroke="#808080" stroke-width="1"/>
<line x1="189.60" y1="176.00" x2="189.60" y2="180.00" stroke="#808080" stroke-width="1"/>
<line x1="189.60" y1="239.00" x2="189.60" y2="243.00" stroke="#808080" stroke-width="1"/>
<line x1="227.60" y1="2.00" x2="227.60" y2="6.00" stroke="#808080" stroke-width="1"/>
<line x1="227.60" y1="172.00" x2="227.60" y2="176.00" stroke="#808080" stroke-width="1"/>
<line x1="227.60" y1="176.00" x2="227.60" y2="180.00" stroke="#808080" stroke-width="1"/>
<line x1="227.60" y1="239.00" x2="227.60" y2="243.00" stroke="#808080" stroke-width="1"/>
<line x1="265.60" y1="2.00" x2="265.60" y2="6.00" stroke="#808080" stroke-width="1"/>
<line x1="265.60" y1="172.00" x2="265.60" y2="176.00" stroke="#808080" stroke-width="1"/>
<line x1="265.60" y1="176.00" x2="265.60" y2="180.00" stroke="#808080" stroke-width="1"/>
<line x1="265.60" y1="239.00" x2="265.60" y2="243.00" stroke="#808080" stroke-width="1"/>
<line x1="303.60" y1="2.00" x2="303.60" y2="6.00" stroke="#808080" stroke-width="1"/>
<line x1="303.60" y1="172.00" x2="303.60" y2="176.00" stroke="#808080" stroke-width="1"/>
<line x1="303.60" y1="176.00" x2="303.60" y2="180.00" stroke="#808080" stroke-width="1"/>
<line x1="303.60" y1="239.00" x2="303.60" y2="243.00" stroke="#808080" stroke-width="1"/>
<line x1="341.60" y1="2.00" x2="341.60" y2="6.00" stroke="#808080" stroke-width="1"/>
<line x1="341.60" y1="172.00" x2="341.60" y2="176.00" stroke="#808080" stroke-width="1"/>
<line x1="341.60" y1="176.00" x2="341.60" y2="180.00" stroke="#808080" stroke-width="1"/>
<line x1="341.60" y1="239.00" x2="341.60" y2="243.00" stroke="#808080" stroke-width="1"/>
<line x1="379.60" y1="2.00" x2="379.60" y2="6.00" stroke="#808080" stroke-width="1"/>
<line x1="379.60" y1="172.00" x2="379.60" y2="176.00" stroke="#808080" stroke-width="1"/>
<line x1="379.60" y1="176.00" x2="379.60" y2="180.00" stroke="#808080" stroke-width="1"/>
<line x1="379.60" y1="239.00" x2="379.60" y2="243.00" stroke="#808080" stroke-width="1"/>
<line x1="417.60" y1="2.00" x2="417.60" y2="6.00" stroke="#808080" stroke-width="1"/>
<line x1="417.60" y1="172.00" x2="417.60" y2="176.00" stroke="#808080" stroke-width="1"/>
<line x1="417.60" y1="176.00" x2="417.60" y2="180.00" stroke="#808080" stroke-width="1"/>
<line x1="417.60" y1="239.00" x2="417.60" y2="243.00" stroke="#808080" stroke-width="1"/>
<line x1="455.60" y1="2.00" x2="455.60" y2="6.00" stroke="#808080" stroke-width="1"/>
<line x1="455.60" y1="172.00" x2="455.60" y2="176.00" stroke="#808080" stroke-width="1"/>
<line x1="455.60" y1="176.00" x2="455.60" y2="180.00" stroke="#808080" stroke-width="1"/>
<line x1="455.60" y1="239.00" x2="455.60" y2="243.00" stroke="#808080" stroke-width="1"/>
<line x1="56.60" y1="10.20" x2="60.60" y2="10.20" stroke="#808080" stroke-width="1"/>
<line x1="451.80" y1="10.20" x2="455.80" y2="10.20" stroke="#808080" stroke-width="1"/>
<line x1="56.60" y1="51.50" x2="60.60" y2="51.50" stroke="#808080" stroke-width="1"/>
<line x1="451.80" y1="51.50" x2="455.80" y2="51.50" stroke="#808080" stroke-width="1"/>
<line x1="56.60" y1="92.80" x2="60.60" y2="92.80" stroke="#808080" stroke-width="1"/>
<line x1="451.80" y1="92.80" x2="455.80" y2="92.80" stroke="#808080" stroke-width="1"/>
<line x1="56.60" y1="134.10" x2="60.60" y2="134.10" stroke="#808080" stroke-width="1"/>
<line x1="451.80" y1="134.10" x2="455.80" y2="134.10" stroke="#808080" stroke-width="1"/>
<line x1="56.60" y1="187.10" x2="60.60" y2="187.10" stroke="#808080" stroke-width="1"/>
<line x1="451.80" y1="187.10" x2="455.80" y2="187.10" stroke="#808080" stroke-width="1"/>
<line x1="56.60" y1="209.60" x2="60.60" y2="209.60" stroke="#808080" stroke-width="1"/>
<line x1="451.80" y1="209.60" x2="455.80" y2="209.60" stroke="#808080" stroke-width="1"/>
<line x1="56.60" y1="232.10" x2="60.60" y2="232.10" stroke="#808080" stroke-width="1"/>
<line x1="451.80" y1="232.10" x2="455.80" y2="232.10" stroke="#808080" stroke-width="1"/>
<rect x="56.6" y="2.0" width="399.20" height="241.00" fill="none" stroke="#808080" stroke-width="1"/>
<line x1="56.60" y1="176.00" x2="455.80" y2="176.00" stroke="#808080" stroke-width="1"/>
<rect x="224.6" y="121.4" width="223.9" height="44.9" fill="#fff" stroke="#808080" stroke-width="1"/>
<line x1="230.50" y1="129.50" x2="257.70" y2="129.50" stroke="#0000ff" stroke-width="2"/>
<text x="261.00" y="133.50" font-size="11" text-anchor="start" >Fit with RV data prior to BJD 2454604</text>
<line x1="230.50" y1="143.80" x2="257.70" y2="143.80" stroke="#ff0000" stroke-width="2"/>
<text x="261.00" y="147.80" font-size="11" text-anchor="start" >Fit with RV data post to BJD 2455466</text>
<line x1="230.50" y1="158.10" x2="257.70" y2="158.10" stroke="#00ff00" stroke-width="2"/>
<text x="261.00" y="162.10" font-size="11" text-anchor="start" >Global fit</text>
<path d="M507.20,116.30 L508.30,114.50 L510.50,109.10 L513.30,99.30 L514.80,94.90 L517.00,86.20 L519.20,73.10 L521.00,60.00 L522.50,48.00 L525.10,34.90 L527.50,27.90 L529.40,26.60 L531.60,20.70 L534.50,15.30 L536.20,10.90 L537.30,15.30 L538.80,8.30 L540.60,4.40 L543.20,3.90 L544.30,7.60 L547.50,15.30 L550.80,21.40 L553.00,22.90 L555.00,30.00 L557.70,40.00 L560.50,45.50 L563.20,50.90 L566.80,56.40 L568.60,61.80 L571.40,69.10 L572.70,75.00 L575.50,82.30 L579.10,87.70 L581.80,89.50 L583.60,92.30 L586.40,95.90 L587.30,100.50 L590.00,105.00 L593.60,107.70 L598.20,110.50 L601.80,113.20 L606.40,115.00 L610.90,116.80 L615.50,118.60 L620.00,118.60 L629.00,119.00" fill="none" stroke="#0000ff" stroke-width="2" stroke-linejoin="round"/>
<path d="M568.70,118.40 L570.00,118.60 L574.50,117.20 L580.00,115.90 L583.60,113.20 L588.20,109.50 L592.70,105.90 L597.30,102.30 L601.80,98.60 L605.50,95.00 L608.20,88.60 L610.90,82.30 L613.60,75.00 L616.10,58.90 L618.30,55.60 L621.50,45.80 L624.80,40.40 L628.10,36.00 L632.50,27.30 L636.80,17.50 L639.00,14.80 L641.20,15.70 L643.40,11.30 L646.60,9.80 L648.80,8.70 L651.00,4.40 L654.30,5.50 L657.50,3.90 L659.70,5.50 L663.00,12.00 L667.40,18.50 L670.60,22.90 L673.30,28.70 L676.10,37.50 L678.30,38.50 L680.90,47.30 L684.20,52.70 L687.50,61.50 L690.70,70.20 L694.00,75.60 L697.30,78.90 L700.90,84.20 L704.20,91.80 L708.50,100.50 L711.80,102.70 L716.20,107.10 L720.50,110.40 L724.90,113.60 L730.40,116.30 L733.60,118.40 L740.20,118.90 L746.30,118.90" fill="none" stroke="#ff0000" stroke-width="2" stroke-linejoin="round"/>
<path d="M570.90,118.60 L575.00,97.00 L579.10,75.00 L582.80,40.00 L584.50,23.30 L586.00,13.80 L587.20,10.20 L588.20,8.00 L589.60,5.10 L591.10,4.10 L592.10,4.40 L593.30,8.70 L594.40,18.90 L595.50,29.10 L596.30,40.00 L598.20,58.00 L600.00,75.00 L602.70,87.70 L605.50,98.60 L608.20,107.70 L611.80,115.00 L616.40,118.60 L619.00,119.00" fill="none" stroke="#00ff00" stroke-width="2" stroke-linejoin="round"/>
<path d="M507.20,243.50 L511.50,245.60 L515.90,240.20 L521.40,233.20 L526.80,234.70 L531.20,229.30 L536.60,209.60 L541.00,204.20 L544.30,201.30 L546.50,202.00 L549.70,194.40 L553.90,188.00 L557.00,176.00 L560.30,169.50 L563.50,166.20 L567.90,161.80 L571.20,155.30 L574.50,147.60 L576.60,144.40 L579.90,143.30 L582.10,143.90 L584.30,147.00 L587.50,146.50 L590.80,148.30 L594.10,147.60 L597.40,152.00 L600.60,155.30 L604.40,159.60 L608.70,167.30 L612.00,174.90 L615.30,179.30 L618.50,186.90 L621.80,194.50 L624.00,203.00 L629.00,208.00 L633.00,214.00 L637.00,222.00 L640.00,227.10 L644.40,232.60 L648.70,235.80 L655.30,241.30 L661.80,245.70 L667.30,247.20 L670.60,245.70" fill="none" stroke="#0000ff" stroke-width="2" stroke-linejoin="round"/>
<path d="M615.00,247.00 L620.00,245.00 L628.00,244.00 L635.00,241.00 L640.00,239.10 L644.40,232.60 L648.70,230.40 L653.10,227.10 L655.70,221.70 L658.60,214.00 L661.80,206.40 L665.10,196.60 L668.00,190.00 L671.40,180.40 L676.80,168.40 L681.20,160.70 L683.40,155.70 L685.50,155.70 L687.70,152.00 L689.90,148.70 L692.10,146.50 L693.80,143.30 L695.40,143.90 L697.50,146.50 L700.00,147.60 L702.60,153.50 L704.40,155.30 L706.50,164.00 L708.70,168.40 L712.00,178.20 L714.20,180.40 L715.80,190.00 L718.60,198.70 L720.70,206.40 L722.90,207.90 L725.10,214.00 L727.30,222.80 L730.60,230.40 L733.80,234.80 L736.00,235.40 L739.30,241.30 L742.60,244.60 L745.90,247.20" fill="none" stroke="#ff0000" stroke-width="2" stroke-linejoin="round"/>
<path d="M613.00,247.40 L616.00,244.00 L620.00,235.00 L625.00,215.00 L627.30,200.00 L629.50,185.80 L631.60,166.20 L633.80,150.90 L636.00,143.90 L637.50,146.50 L639.30,150.90 L641.50,152.00 L643.60,157.50 L645.80,170.50 L648.70,190.00 L650.90,205.30 L653.10,216.20 L654.80,223.80 L657.50,232.60 L660.70,240.20 L665.10,245.70 L670.60,247.20 L676.00,247.00" fill="none" stroke="#00ff00" stroke-width="2" stroke-linejoin="round"/>
<rect x="507.2" y="0" width="240.50000000000006" height="4.0" fill="#fff"/>
<line x1="507.20" y1="4.00" x2="507.20" y2="6.50" stroke="#808080" stroke-width="1"/>
<line x1="507.20" y1="117.20" x2="507.20" y2="119.70" stroke="#808080" stroke-width="1"/>
<line x1="587.03" y1="4.00" x2="587.03" y2="6.50" stroke="#808080" stroke-width="1"/>
<line x1="587.03" y1="117.20" x2="587.03" y2="119.70" stroke="#808080" stroke-width="1"/>
<line x1="666.87" y1="4.00" x2="666.87" y2="6.50" stroke="#808080" stroke-width="1"/>
<line x1="666.87" y1="117.20" x2="666.87" y2="119.70" stroke="#808080" stroke-width="1"/>
<line x1="746.70" y1="4.00" x2="746.70" y2="6.50" stroke="#808080" stroke-width="1"/>
<line x1="746.70" y1="117.20" x2="746.70" y2="119.70" stroke="#808080" stroke-width="1"/>
<line x1="507.20" y1="119.70" x2="509.70" y2="119.70" stroke="#808080" stroke-width="1"/>
<line x1="744.20" y1="119.70" x2="746.70" y2="119.70" stroke="#808080" stroke-width="1"/>
<line x1="507.20" y1="96.56" x2="509.70" y2="96.56" stroke="#808080" stroke-width="1"/>
<line x1="744.20" y1="96.56" x2="746.70" y2="96.56" stroke="#808080" stroke-width="1"/>
<line x1="507.20" y1="73.42" x2="509.70" y2="73.42" stroke="#808080" stroke-width="1"/>
<line x1="744.20" y1="73.42" x2="746.70" y2="73.42" stroke="#808080" stroke-width="1"/>
<line x1="507.20" y1="50.28" x2="509.70" y2="50.28" stroke="#808080" stroke-width="1"/>
<line x1="744.20" y1="50.28" x2="746.70" y2="50.28" stroke="#808080" stroke-width="1"/>
<line x1="507.20" y1="27.14" x2="509.70" y2="27.14" stroke="#808080" stroke-width="1"/>
<line x1="744.20" y1="27.14" x2="746.70" y2="27.14" stroke="#808080" stroke-width="1"/>
<line x1="507.20" y1="4.00" x2="509.70" y2="4.00" stroke="#808080" stroke-width="1"/>
<line x1="744.20" y1="4.00" x2="746.70" y2="4.00" stroke="#808080" stroke-width="1"/>
<rect x="507.2" y="4.0" width="239.50" height="115.70" fill="none" stroke="#808080" stroke-width="1"/>
<line x1="517.50" y1="143.60" x2="517.50" y2="146.10" stroke="#808080" stroke-width="1"/>
<line x1="517.50" y1="244.70" x2="517.50" y2="247.20" stroke="#808080" stroke-width="1"/>
<line x1="555.70" y1="143.60" x2="555.70" y2="146.10" stroke="#808080" stroke-width="1"/>
<line x1="555.70" y1="244.70" x2="555.70" y2="247.20" stroke="#808080" stroke-width="1"/>
<line x1="593.90" y1="143.60" x2="593.90" y2="146.10" stroke="#808080" stroke-width="1"/>
<line x1="593.90" y1="244.70" x2="593.90" y2="247.20" stroke="#808080" stroke-width="1"/>
<line x1="632.10" y1="143.60" x2="632.10" y2="146.10" stroke="#808080" stroke-width="1"/>
<line x1="632.10" y1="244.70" x2="632.10" y2="247.20" stroke="#808080" stroke-width="1"/>
<line x1="670.30" y1="143.60" x2="670.30" y2="146.10" stroke="#808080" stroke-width="1"/>
<line x1="670.30" y1="244.70" x2="670.30" y2="247.20" stroke="#808080" stroke-width="1"/>
<line x1="708.50" y1="143.60" x2="708.50" y2="146.10" stroke="#808080" stroke-width="1"/>
<line x1="708.50" y1="244.70" x2="708.50" y2="247.20" stroke="#808080" stroke-width="1"/>
<line x1="746.70" y1="143.60" x2="746.70" y2="146.10" stroke="#808080" stroke-width="1"/>
<line x1="746.70" y1="244.70" x2="746.70" y2="247.20" stroke="#808080" stroke-width="1"/>
<line x1="507.20" y1="247.20" x2="509.70" y2="247.20" stroke="#808080" stroke-width="1"/>
<line x1="744.20" y1="247.20" x2="746.70" y2="247.20" stroke="#808080" stroke-width="1"/>
<line x1="507.20" y1="195.40" x2="509.70" y2="195.40" stroke="#808080" stroke-width="1"/>
<line x1="744.20" y1="195.40" x2="746.70" y2="195.40" stroke="#808080" stroke-width="1"/>
<line x1="507.20" y1="143.60" x2="509.70" y2="143.60" stroke="#808080" stroke-width="1"/>
<line x1="744.20" y1="143.60" x2="746.70" y2="143.60" stroke="#808080" stroke-width="1"/>
<rect x="507.2" y="143.6" width="239.50" height="103.60" fill="none" stroke="#808080" stroke-width="1"/>
<text x="38.70" y="14.20" font-size="11" text-anchor="middle" >500</text>
<text x="38.65" y="55.50" font-size="11" text-anchor="middle" >0</text>
<text x="38.50" y="96.50" font-size="11" text-anchor="middle" >&#8722;500</text>
<text x="38.70" y="138.50" font-size="11" text-anchor="middle" >&#8722;1000</text>
<text x="54.00" y="192.10" font-size="11" text-anchor="end" >100</text>
<text x="44.70" y="213.60" font-size="11" text-anchor="end" >0</text>
<text x="53.30" y="236.30" font-size="11" text-anchor="end" >&#8722;100</text>
<text x="75.60" y="257.00" font-size="11" text-anchor="middle" >0</text>
<text x="113.60" y="257.00" font-size="11" text-anchor="middle" >0.1</text>
<text x="151.60" y="257.00" font-size="11" text-anchor="middle" >0.2</text>
<text x="189.60" y="257.00" font-size="11" text-anchor="middle" >0.3</text>
<text x="227.60" y="257.00" font-size="11" text-anchor="middle" >0.4</text>
<text x="265.60" y="257.00" font-size="11" text-anchor="middle" >0.5</text>
<text x="303.60" y="257.00" font-size="11" text-anchor="middle" >0.6</text>
<text x="341.60" y="257.00" font-size="11" text-anchor="middle" >0.7</text>
<text x="379.60" y="257.00" font-size="11" text-anchor="middle" >0.8</text>
<text x="417.60" y="257.00" font-size="11" text-anchor="middle" >0.9</text>
<text x="455.60" y="257.00" font-size="11" text-anchor="middle" >1</text>
<text x="256.30" y="269.30" font-size="11" text-anchor="middle" >Orbital Phase</text>
<text transform="translate(11.9,146.8) rotate(-90)" font-size="11">RV&#8722;RV<tspan font-size="8.3" dy="5.4">HAT&#8722;P&#8722;2 c </tspan><tspan dy="-5.4">[m.s</tspan><tspan font-size="8" dy="-4.8">&#8722;1</tspan><tspan dy="4.8">]</tspan></text>
<text transform="translate(14.2,249.3) rotate(-90)" font-size="11">Residuals [m.s<tspan font-size="8" dy="-7">&#8722;1</tspan><tspan dy="7">]</tspan></text>
<text x="453.00" y="12.90" font-size="10.5" text-anchor="end" font-weight="bold">A</text>
<text x="456.00" y="186.80" font-size="10.5" text-anchor="end" font-weight="bold">B</text>
<text x="743.50" y="14.60" font-size="10.5" text-anchor="end" font-weight="bold">C</text>
<text x="746.50" y="153.70" font-size="10.5" text-anchor="end" font-weight="bold">D</text>
<text x="504.00" y="123.70" font-size="11" text-anchor="end" >0</text>
<text x="504.00" y="100.56" font-size="11" text-anchor="end" >0.2</text>
<text x="504.00" y="77.42" font-size="11" text-anchor="end" >0.4</text>
<text x="504.00" y="54.28" font-size="11" text-anchor="end" >0.6</text>
<text x="504.00" y="31.14" font-size="11" text-anchor="end" >0.8</text>
<text x="504.00" y="8.00" font-size="11" text-anchor="end" >1</text>
<text x="504.00" y="252.20" font-size="11" text-anchor="end" >0</text>
<text x="504.00" y="200.40" font-size="11" text-anchor="end" >0.5</text>
<text x="504.00" y="148.10" font-size="11" text-anchor="end" >1</text>
<text x="507.20" y="133.00" font-size="11" text-anchor="middle" >0.506</text>
<text x="587.03" y="133.00" font-size="11" text-anchor="middle" >0.51</text>
<text x="666.87" y="133.00" font-size="11" text-anchor="middle" >0.514</text>
<text x="746.70" y="133.00" font-size="11" text-anchor="middle" >0.518</text>
<text x="631.00" y="135.50" font-size="11" text-anchor="middle" >e</text>
<text x="517.50" y="260.50" font-size="11" text-anchor="middle" >182</text>
<text x="555.70" y="260.50" font-size="11" text-anchor="middle" >184</text>
<text x="593.90" y="260.50" font-size="11" text-anchor="middle" >186</text>
<text x="632.10" y="260.50" font-size="11" text-anchor="middle" >188</text>
<text x="670.30" y="260.50" font-size="11" text-anchor="middle" >190</text>
<text x="708.50" y="260.50" font-size="11" text-anchor="middle" >192</text>
<text x="746.70" y="260.50" font-size="11" text-anchor="middle" >194</text>
<text x="627" y="272.9" font-size="11" text-anchor="middle"><tspan font-family="Liberation Serif, serif" font-size="10">&#969;</tspan> [deg]</text>
<text transform="translate(484,62) rotate(-90)" font-size="11" text-anchor="middle">Normalized PPD</text>
<text transform="translate(484,195.2) rotate(-90)" font-size="11" text-anchor="middle">Normalized PPD</text>
</svg></body></html>
